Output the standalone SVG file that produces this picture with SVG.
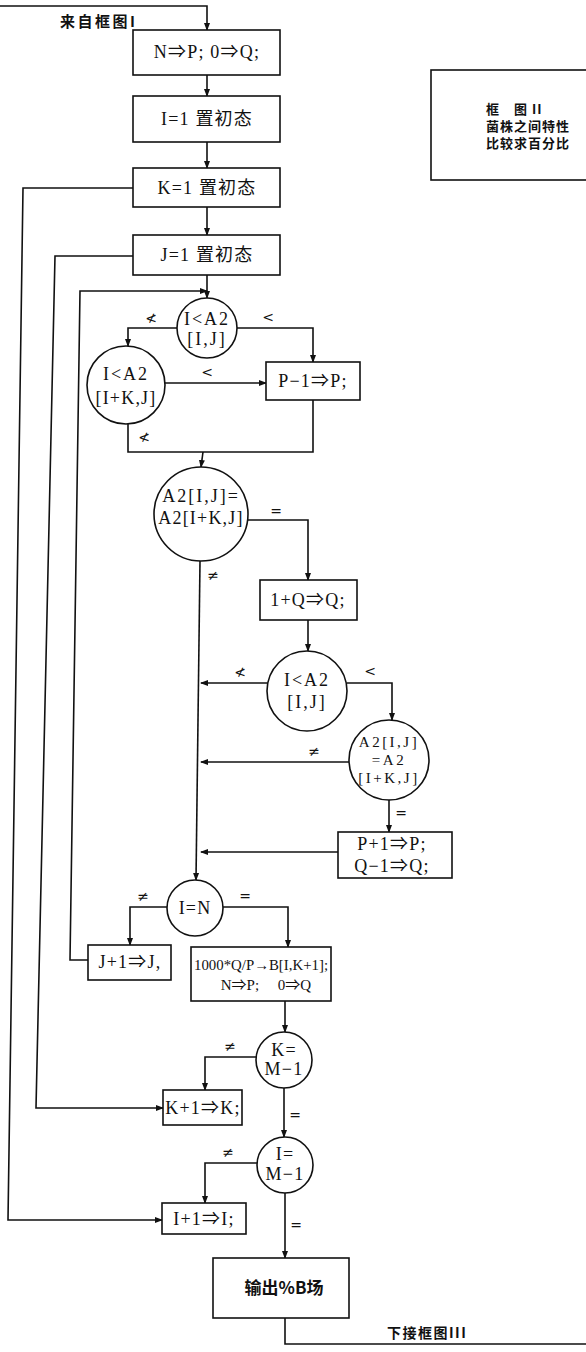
<svg xmlns="http://www.w3.org/2000/svg" width="586" height="1352" viewBox="0 0 586 1352">
<style>
.n{fill:#fff;stroke:#111;stroke-width:1.6}
.c{fill:none;stroke:#111;stroke-width:1.6}
.t{font-family:"Liberation Serif","Noto Sans CJK SC",serif;font-size:18px;letter-spacing:1.2px;fill:#111;text-anchor:middle}
.k{font-family:"Liberation Serif","Noto Sans CJK SC",serif;font-size:18px;letter-spacing:2px;fill:#111;text-anchor:middle}
.m{font-family:"Liberation Serif","Noto Sans CJK SC",serif;font-size:15px;letter-spacing:2.5px;fill:#111;text-anchor:middle}
.s{font-family:"Liberation Serif","Noto Sans CJK SC",serif;font-size:15px;fill:#111;text-anchor:middle}
.l{font-family:"DejaVu Sans",sans-serif;font-size:14px;fill:#111;text-anchor:middle}
.b{font-family:"Noto Sans CJK SC",sans-serif;font-weight:bold;fill:#111}
</style>
<defs>
<marker id="a" viewBox="0 0 8 8" refX="7" refY="4" markerWidth="5" markerHeight="5" orient="auto"><path d="M0,1 L8,4 L0,7 z" fill="#111"/></marker>
</defs>
<g id="connectors">
<polyline class="c" points="0,6 207,6 207,30" marker-end="url(#a)"/>
<line class="c" x1="207" y1="75" x2="207" y2="96" marker-end="url(#a)"/>
<line class="c" x1="207" y1="142" x2="207" y2="168" marker-end="url(#a)"/>
<line class="c" x1="207" y1="207" x2="207" y2="235" marker-end="url(#a)"/>
<line class="c" x1="207" y1="275" x2="207" y2="298" marker-end="url(#a)"/>
<polyline class="c" points="133,188 23,188 8,1220 162,1220" marker-end="url(#a)"/>
<polyline class="c" points="133,256 55,256 36,1108 163,1108" marker-end="url(#a)"/>
<polyline class="c" points="88,960 70,960 80,291 207,291" marker-end="url(#a)"/>
<polyline class="c" points="177,328 128,328 128,346" marker-end="url(#a)"/>
<polyline class="c" points="237,328 313,328 313,362" marker-end="url(#a)"/>
<line class="c" x1="165" y1="383" x2="266" y2="383" marker-end="url(#a)"/>
<polyline class="c" points="128,424 128,452 313,452 313,400"/>
<line class="c" x1="203" y1="452" x2="201" y2="467" marker-end="url(#a)"/>
<polyline class="c" points="248,520 308,520 308,580" marker-end="url(#a)"/>
<line class="c" x1="308" y1="620" x2="308" y2="651" marker-end="url(#a)"/>
<line class="c" x1="267" y1="683" x2="201" y2="683" marker-end="url(#a)"/>
<polyline class="c" points="347,683 392,683 392,720" marker-end="url(#a)"/>
<line class="c" x1="349" y1="762" x2="201" y2="762" marker-end="url(#a)"/>
<line class="c" x1="389" y1="800" x2="389" y2="832" marker-end="url(#a)"/>
<line class="c" x1="338" y1="852" x2="201" y2="852" marker-end="url(#a)"/>
<line class="c" x1="200" y1="561" x2="196" y2="880" marker-end="url(#a)"/>
<polyline class="c" points="167,907 130,907 130,945" marker-end="url(#a)"/>
<polyline class="c" points="223,907 288,907 288,947" marker-end="url(#a)"/>
<line class="c" x1="285" y1="1001" x2="285" y2="1032" marker-end="url(#a)"/>
<polyline class="c" points="256,1057 205,1057 205,1090" marker-end="url(#a)"/>
<line class="c" x1="284" y1="1088" x2="284" y2="1137" marker-end="url(#a)"/>
<polyline class="c" points="257,1163 205,1163 205,1203" marker-end="url(#a)"/>
<line class="c" x1="285" y1="1193" x2="285" y2="1258" marker-end="url(#a)"/>
<polyline class="c" points="285,1318 285,1344 586,1344"/>
<text class="l" x="151" y="323">≮</text>
<text class="l" x="268" y="322">&lt;</text>
<text class="l" x="207" y="377">&lt;</text>
<text class="l" x="144" y="442">≮</text>
<text class="l" x="276" y="516">=</text>
<text class="l" x="213" y="580">≠</text>
<text class="l" x="240" y="677">≮</text>
<text class="l" x="370" y="676">&lt;</text>
<text class="l" x="314" y="756">≠</text>
<text class="l" x="401" y="818">=</text>
<text class="l" x="143" y="901">≠</text>
<text class="l" x="245" y="901">=</text>
<text class="l" x="230" y="1051">≠</text>
<text class="l" x="295" y="1120">=</text>
<text class="l" x="228" y="1157">≠</text>
<text class="l" x="296" y="1230">=</text>
<text class="b" x="60" y="27" font-size="15" letter-spacing="2.5">来自框图I</text>
<text class="b" x="387" y="1338" font-size="14" letter-spacing="1.5">下接框图III</text>
</g>
<g id="n1"><rect class="n" x="133" y="30" width="147" height="45"/><text class="t" x="207" y="58">N⇒P; 0⇒Q;</text></g>
<g id="n2"><rect class="n" x="133" y="96" width="147" height="46"/><text class="t" x="207" y="125">I=1 置初态</text></g>
<g id="n3"><rect class="n" x="133" y="168" width="147" height="39"/><text class="t" x="207" y="194">K=1 置初态</text></g>
<g id="n4"><rect class="n" x="133" y="235" width="147" height="40"/><text class="t" x="207" y="261">J=1 置初态</text></g>
<g id="legend"><rect class="n" x="431" y="70" width="160" height="110"/>
<text class="b" x="486" y="114" font-size="13" letter-spacing="1">框　图 II</text>
<text class="b" x="486" y="131" font-size="13" letter-spacing="1">菌株之间特性</text>
<text class="b" x="486" y="148" font-size="13" letter-spacing="1">比较求百分比</text></g>
<g id="d1"><circle class="n" cx="207" cy="328" r="30"/><text class="k" x="207" y="325">I&lt;A2</text><text class="k" x="207" y="345">[I,J]</text></g>
<g id="d2"><circle class="n" cx="126" cy="385" r="39"/><text class="k" x="126" y="380">I&lt;A2</text><text class="t" x="126" y="404">[I+K,J]</text></g>
<g id="p1"><rect class="n" x="266" y="362" width="94" height="38"/><text class="t" x="313" y="387">P−1⇒P;</text></g>
<g id="d3"><circle class="n" cx="201" cy="514" r="47"/><text class="k" x="201" y="502">A2[I,J]=</text><text class="t" x="201" y="524">A2[I+K,J]</text></g>
<g id="p2"><rect class="n" x="260" y="580" width="97" height="40"/><text class="t" x="308" y="606">1+Q⇒Q;</text></g>
<g id="d4"><circle class="n" cx="307" cy="691" r="40"/><text class="k" x="307" y="686">I&lt;A2</text><text class="k" x="307" y="708">[I,J]</text></g>
<g id="d5"><circle class="n" cx="389" cy="760" r="40"/><text class="m" x="389" y="747">A2[I,J]</text><text class="m" x="389" y="765">=A2</text><text class="m" x="389" y="783">[I+K,J]</text></g>
<g id="p3"><rect class="n" x="338" y="832" width="114" height="46"/><text class="t" x="392" y="850">P+1⇒P;</text><text class="t" x="392" y="872">Q−1⇒Q;</text></g>
<g id="d6"><circle class="n" cx="195" cy="908" r="28"/><text class="t" x="195" y="914">I=N</text></g>
<g id="p4"><rect class="n" x="88" y="945" width="83" height="35"/><text class="t" x="130" y="968">J+1⇒J,</text></g>
<g id="p5"><rect class="n" x="191" y="947" width="140" height="54"/><text class="s" x="261" y="970" textLength="134" lengthAdjust="spacingAndGlyphs">1000*Q/P→B[I,K+1];</text><text class="s" x="266" y="990">N⇒P;　  0⇒Q</text></g>
<g id="d7"><circle class="n" cx="284" cy="1060" r="28"/><text class="t" x="284" y="1056">K=</text><text class="t" x="284" y="1075">M−1</text></g>
<g id="p6"><rect class="n" x="163" y="1090" width="79" height="35"/><text class="t" x="203" y="1114">K+1⇒K;</text></g>
<g id="d8"><circle class="n" cx="285" cy="1165" r="28"/><text class="t" x="285" y="1160">I=</text><text class="t" x="285" y="1180">M−1</text></g>
<g id="p7"><rect class="n" x="162" y="1203" width="84" height="31"/><text class="t" x="204" y="1225">I+1⇒I;</text></g>
<g id="p8"><rect class="n" x="213" y="1258" width="136" height="60"/><text class="b" x="284" y="1294" font-size="17" text-anchor="middle">输出%B场</text></g>
</svg>
